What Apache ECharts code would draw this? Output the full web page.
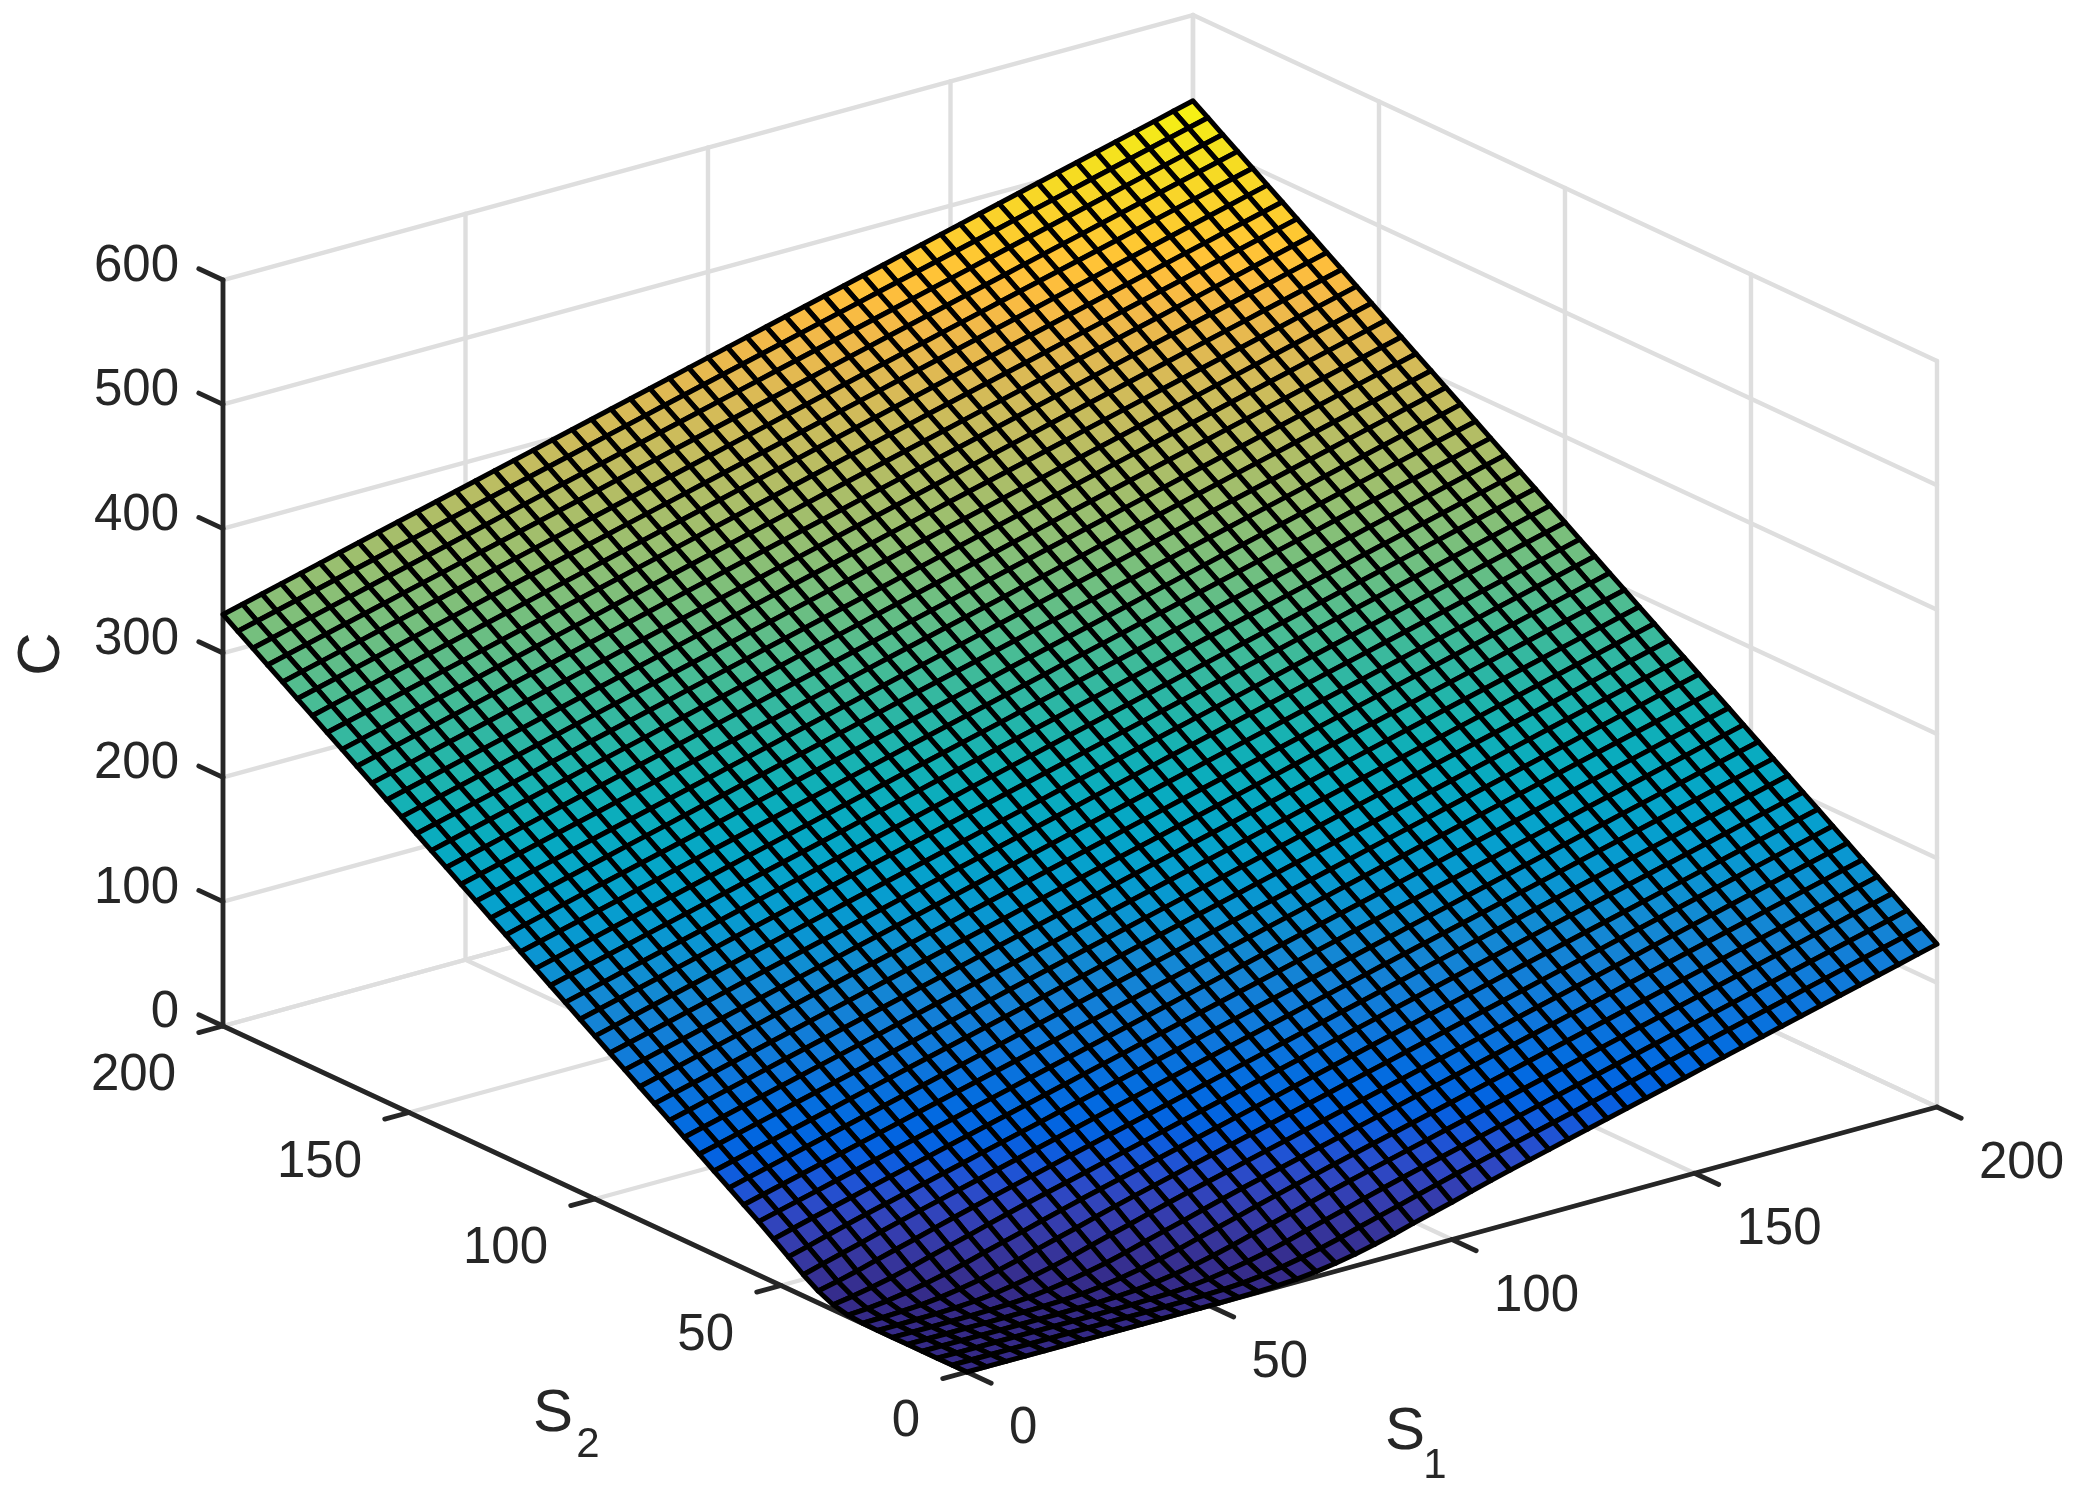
<!DOCTYPE html>
<html>
<head>
<meta charset="utf-8">
<title>C over S1 and S2</title>
<style>
html, body { margin: 0; padding: 0; background: #fff; }
#main { width: 2075px; height: 1493px; }
</style>
<script src="https://cdn.jsdelivr.net/npm/echarts@6/dist/echarts.min.js"></script>
</head>
<body>
<div id="main"></div>
<script>
// tick labels
const s1Ticks = [0, 50, 100, 150, 200];
const s2Ticks = [0, 50, 100, 150, 200];
const cTicks = [0, 100, 200, 300, 400, 500, 600];

// mesh positions, same for both S axes
const meshS = [0,4,8,12,16,20,24,28,32,36,40,44,48,52,56,60,64,68,72,76,80,84,88,92,96,100,104,108,112,116,120,124,128,132,136,140,144,148,152,156,160,164,168,172,176,180,184,188,192,196,200];

// C, one row per S2 mesh value, one column per S1 mesh value
const surfaceC = [
[0,0,0,0,0,0,0,0,0,0,0,0,0,.1,.3,.6,1.2,2.2,4,6.5,9.5,13,17,21.5,25.8,30,34.5,38.8,43,47,51,55,59,63,67,71,75,79,83,87,91,95,99,103,107,111,115,119,123,127,131],
[0,0,0,0,0,0,0,0,0,0,0,.1,.3,.6,1.2,2.2,4,6.5,9.5,13,17,21.5,25.8,30,34.5,38.8,43,47,51,55,59,63,67,71,75,79,83,87,91,95,99,103,107,111,115,119,123,127,131,135,139],
[0,0,0,0,0,0,0,0,0,.1,.3,.6,1.2,2.2,4,6.5,9.5,13,17,21.5,25.8,30,34.5,38.8,43,47,51,55,59,63,67,71,75,79,83,87,91,95,99,103,107,111,115,119,123,127,131,135,139,143,147],
[0,0,0,0,0,0,0,.1,.3,.6,1.2,2.2,4,6.5,9.5,13,17,21.5,25.8,30,34.5,38.8,43,47,51,55,59,63,67,71,75,79,83,87,91,95,99,103,107,111,115,119,123,127,131,135,139,143,147,151,155],
[0,0,0,0,0,.1,.3,.6,1.2,2.2,4,6.5,9.5,13,17,21.5,25.8,30,34.5,38.8,43,47,51,55,59,63,67,71,75,79,83,87,91,95,99,103,107,111,115,119,123,127,131,135,139,143,147,151,155,159,163],
[0,0,0,.1,.3,.6,1.2,2.2,4,6.5,9.5,13,17,21.5,25.8,30,34.5,38.8,43,47,51,55,59,63,67,71,75,79,83,87,91,95,99,103,107,111,115,119,123,127,131,135,139,143,147,151,155,159,163,167,171],
[0,.1,.3,.6,1.2,2.2,4,6.5,9.5,13,17,21.5,25.8,30,34.5,38.8,43,47,51,55,59,63,67,71,75,79,83,87,91,95,99,103,107,111,115,119,123,127,131,135,139,143,147,151,155,159,163,167,171,175,179],
[.3,.6,1.2,2.2,4,6.5,9.5,13,17,21.5,25.8,30,34.5,38.8,43,47,51,55,59,63,67,71,75,79,83,87,91,95,99,103,107,111,115,119,123,127,131,135,139,143,147,151,155,159,163,167,171,175,179,183,187],
[1.2,2.2,4,6.5,9.5,13,17,21.5,25.8,30,34.5,38.8,43,47,51,55,59,63,67,71,75,79,83,87,91,95,99,103,107,111,115,119,123,127,131,135,139,143,147,151,155,159,163,167,171,175,179,183,187,191,195],
[4,6.5,9.5,13,17,21.5,25.8,30,34.5,38.8,43,47,51,55,59,63,67,71,75,79,83,87,91,95,99,103,107,111,115,119,123,127,131,135,139,143,147,151,155,159,163,167,171,175,179,183,187,191,195,199,203],
[9.5,13,17,21.5,25.8,30,34.5,38.8,43,47,51,55,59,63,67,71,75,79,83,87,91,95,99,103,107,111,115,119,123,127,131,135,139,143,147,151,155,159,163,167,171,175,179,183,187,191,195,199,203,207,211],
[17,21.5,25.8,30,34.5,38.8,43,47,51,55,59,63,67,71,75,79,83,87,91,95,99,103,107,111,115,119,123,127,131,135,139,143,147,151,155,159,163,167,171,175,179,183,187,191,195,199,203,207,211,215,219],
[25.8,30,34.5,38.8,43,47,51,55,59,63,67,71,75,79,83,87,91,95,99,103,107,111,115,119,123,127,131,135,139,143,147,151,155,159,163,167,171,175,179,183,187,191,195,199,203,207,211,215,219,223,227],
[34.5,38.8,43,47,51,55,59,63,67,71,75,79,83,87,91,95,99,103,107,111,115,119,123,127,131,135,139,143,147,151,155,159,163,167,171,175,179,183,187,191,195,199,203,207,211,215,219,223,227,231,235],
[43,47,51,55,59,63,67,71,75,79,83,87,91,95,99,103,107,111,115,119,123,127,131,135,139,143,147,151,155,159,163,167,171,175,179,183,187,191,195,199,203,207,211,215,219,223,227,231,235,239,243],
[51,55,59,63,67,71,75,79,83,87,91,95,99,103,107,111,115,119,123,127,131,135,139,143,147,151,155,159,163,167,171,175,179,183,187,191,195,199,203,207,211,215,219,223,227,231,235,239,243,247,251],
[59,63,67,71,75,79,83,87,91,95,99,103,107,111,115,119,123,127,131,135,139,143,147,151,155,159,163,167,171,175,179,183,187,191,195,199,203,207,211,215,219,223,227,231,235,239,243,247,251,255,259],
[67,71,75,79,83,87,91,95,99,103,107,111,115,119,123,127,131,135,139,143,147,151,155,159,163,167,171,175,179,183,187,191,195,199,203,207,211,215,219,223,227,231,235,239,243,247,251,255,259,263,267],
[75,79,83,87,91,95,99,103,107,111,115,119,123,127,131,135,139,143,147,151,155,159,163,167,171,175,179,183,187,191,195,199,203,207,211,215,219,223,227,231,235,239,243,247,251,255,259,263,267,271,275],
[83,87,91,95,99,103,107,111,115,119,123,127,131,135,139,143,147,151,155,159,163,167,171,175,179,183,187,191,195,199,203,207,211,215,219,223,227,231,235,239,243,247,251,255,259,263,267,271,275,279,283],
[91,95,99,103,107,111,115,119,123,127,131,135,139,143,147,151,155,159,163,167,171,175,179,183,187,191,195,199,203,207,211,215,219,223,227,231,235,239,243,247,251,255,259,263,267,271,275,279,283,287,291],
[99,103,107,111,115,119,123,127,131,135,139,143,147,151,155,159,163,167,171,175,179,183,187,191,195,199,203,207,211,215,219,223,227,231,235,239,243,247,251,255,259,263,267,271,275,279,283,287,291,295,299],
[107,111,115,119,123,127,131,135,139,143,147,151,155,159,163,167,171,175,179,183,187,191,195,199,203,207,211,215,219,223,227,231,235,239,243,247,251,255,259,263,267,271,275,279,283,287,291,295,299,303,307],
[115,119,123,127,131,135,139,143,147,151,155,159,163,167,171,175,179,183,187,191,195,199,203,207,211,215,219,223,227,231,235,239,243,247,251,255,259,263,267,271,275,279,283,287,291,295,299,303,307,311,315],
[123,127,131,135,139,143,147,151,155,159,163,167,171,175,179,183,187,191,195,199,203,207,211,215,219,223,227,231,235,239,243,247,251,255,259,263,267,271,275,279,283,287,291,295,299,303,307,311,315,319,323],
[131,135,139,143,147,151,155,159,163,167,171,175,179,183,187,191,195,199,203,207,211,215,219,223,227,231,235,239,243,247,251,255,259,263,267,271,275,279,283,287,291,295,299,303,307,311,315,319,323,327,331],
[139,143,147,151,155,159,163,167,171,175,179,183,187,191,195,199,203,207,211,215,219,223,227,231,235,239,243,247,251,255,259,263,267,271,275,279,283,287,291,295,299,303,307,311,315,319,323,327,331,335,339],
[147,151,155,159,163,167,171,175,179,183,187,191,195,199,203,207,211,215,219,223,227,231,235,239,243,247,251,255,259,263,267,271,275,279,283,287,291,295,299,303,307,311,315,319,323,327,331,335,339,343,347],
[155,159,163,167,171,175,179,183,187,191,195,199,203,207,211,215,219,223,227,231,235,239,243,247,251,255,259,263,267,271,275,279,283,287,291,295,299,303,307,311,315,319,323,327,331,335,339,343,347,351,355],
[163,167,171,175,179,183,187,191,195,199,203,207,211,215,219,223,227,231,235,239,243,247,251,255,259,263,267,271,275,279,283,287,291,295,299,303,307,311,315,319,323,327,331,335,339,343,347,351,355,359,363],
[171,175,179,183,187,191,195,199,203,207,211,215,219,223,227,231,235,239,243,247,251,255,259,263,267,271,275,279,283,287,291,295,299,303,307,311,315,319,323,327,331,335,339,343,347,351,355,359,363,367,371],
[179,183,187,191,195,199,203,207,211,215,219,223,227,231,235,239,243,247,251,255,259,263,267,271,275,279,283,287,291,295,299,303,307,311,315,319,323,327,331,335,339,343,347,351,355,359,363,367,371,375,379],
[187,191,195,199,203,207,211,215,219,223,227,231,235,239,243,247,251,255,259,263,267,271,275,279,283,287,291,295,299,303,307,311,315,319,323,327,331,335,339,343,347,351,355,359,363,367,371,375,379,383,387],
[195,199,203,207,211,215,219,223,227,231,235,239,243,247,251,255,259,263,267,271,275,279,283,287,291,295,299,303,307,311,315,319,323,327,331,335,339,343,347,351,355,359,363,367,371,375,379,383,387,391,395],
[203,207,211,215,219,223,227,231,235,239,243,247,251,255,259,263,267,271,275,279,283,287,291,295,299,303,307,311,315,319,323,327,331,335,339,343,347,351,355,359,363,367,371,375,379,383,387,391,395,399,403],
[211,215,219,223,227,231,235,239,243,247,251,255,259,263,267,271,275,279,283,287,291,295,299,303,307,311,315,319,323,327,331,335,339,343,347,351,355,359,363,367,371,375,379,383,387,391,395,399,403,407,411],
[219,223,227,231,235,239,243,247,251,255,259,263,267,271,275,279,283,287,291,295,299,303,307,311,315,319,323,327,331,335,339,343,347,351,355,359,363,367,371,375,379,383,387,391,395,399,403,407,411,415,419],
[227,231,235,239,243,247,251,255,259,263,267,271,275,279,283,287,291,295,299,303,307,311,315,319,323,327,331,335,339,343,347,351,355,359,363,367,371,375,379,383,387,391,395,399,403,407,411,415,419,423,427],
[235,239,243,247,251,255,259,263,267,271,275,279,283,287,291,295,299,303,307,311,315,319,323,327,331,335,339,343,347,351,355,359,363,367,371,375,379,383,387,391,395,399,403,407,411,415,419,423,427,431,435],
[243,247,251,255,259,263,267,271,275,279,283,287,291,295,299,303,307,311,315,319,323,327,331,335,339,343,347,351,355,359,363,367,371,375,379,383,387,391,395,399,403,407,411,415,419,423,427,431,435,439,443],
[251,255,259,263,267,271,275,279,283,287,291,295,299,303,307,311,315,319,323,327,331,335,339,343,347,351,355,359,363,367,371,375,379,383,387,391,395,399,403,407,411,415,419,423,427,431,435,439,443,447,451],
[259,263,267,271,275,279,283,287,291,295,299,303,307,311,315,319,323,327,331,335,339,343,347,351,355,359,363,367,371,375,379,383,387,391,395,399,403,407,411,415,419,423,427,431,435,439,443,447,451,455,459],
[267,271,275,279,283,287,291,295,299,303,307,311,315,319,323,327,331,335,339,343,347,351,355,359,363,367,371,375,379,383,387,391,395,399,403,407,411,415,419,423,427,431,435,439,443,447,451,455,459,463,467],
[275,279,283,287,291,295,299,303,307,311,315,319,323,327,331,335,339,343,347,351,355,359,363,367,371,375,379,383,387,391,395,399,403,407,411,415,419,423,427,431,435,439,443,447,451,455,459,463,467,471,475],
[283,287,291,295,299,303,307,311,315,319,323,327,331,335,339,343,347,351,355,359,363,367,371,375,379,383,387,391,395,399,403,407,411,415,419,423,427,431,435,439,443,447,451,455,459,463,467,471,475,479,483],
[291,295,299,303,307,311,315,319,323,327,331,335,339,343,347,351,355,359,363,367,371,375,379,383,387,391,395,399,403,407,411,415,419,423,427,431,435,439,443,447,451,455,459,463,467,471,475,479,483,487,491],
[299,303,307,311,315,319,323,327,331,335,339,343,347,351,355,359,363,367,371,375,379,383,387,391,395,399,403,407,411,415,419,423,427,431,435,439,443,447,451,455,459,463,467,471,475,479,483,487,491,495,499],
[307,311,315,319,323,327,331,335,339,343,347,351,355,359,363,367,371,375,379,383,387,391,395,399,403,407,411,415,419,423,427,431,435,439,443,447,451,455,459,463,467,471,475,479,483,487,491,495,499,503,507],
[315,319,323,327,331,335,339,343,347,351,355,359,363,367,371,375,379,383,387,391,395,399,403,407,411,415,419,423,427,431,435,439,443,447,451,455,459,463,467,471,475,479,483,487,491,495,499,503,507,511,515],
[323,327,331,335,339,343,347,351,355,359,363,367,371,375,379,383,387,391,395,399,403,407,411,415,419,423,427,431,435,439,443,447,451,455,459,463,467,471,475,479,483,487,491,495,499,503,507,511,515,519,523],
[331,335,339,343,347,351,355,359,363,367,371,375,379,383,387,391,395,399,403,407,411,415,419,423,427,431,435,439,443,447,451,455,459,463,467,471,475,479,483,487,491,495,499,503,507,511,515,519,523,527,531]
];

// parula
const parula = [
[0.2081,0.1663,0.5292],[0.2116,0.1898,0.5777],[0.2123,0.2138,0.6270],[0.2081,0.2386,0.6771],
[0.1959,0.2645,0.7279],[0.1707,0.2919,0.7792],[0.1253,0.3242,0.8303],[0.0591,0.3598,0.8683],
[0.0117,0.3875,0.8820],[0.0060,0.4086,0.8828],[0.0165,0.4266,0.8786],[0.0329,0.4430,0.8720],
[0.0498,0.4586,0.8641],[0.0629,0.4737,0.8554],[0.0723,0.4887,0.8467],[0.0779,0.5040,0.8384],
[0.0793,0.5200,0.8312],[0.0749,0.5375,0.8263],[0.0641,0.5570,0.8240],[0.0488,0.5772,0.8228],
[0.0343,0.5966,0.8199],[0.0265,0.6137,0.8135],[0.0239,0.6287,0.8038],[0.0231,0.6418,0.7913],
[0.0228,0.6535,0.7768],[0.0267,0.6642,0.7607],[0.0384,0.6743,0.7436],[0.0590,0.6838,0.7254],
[0.0843,0.6928,0.7062],[0.1133,0.7015,0.6859],[0.1453,0.7098,0.6646],[0.1801,0.7177,0.6424],
[0.2178,0.7250,0.6193],[0.2586,0.7317,0.5954],[0.3022,0.7376,0.5712],[0.3482,0.7424,0.5473],
[0.3953,0.7459,0.5244],[0.4420,0.7481,0.5033],[0.4871,0.7491,0.4840],[0.5300,0.7491,0.4661],
[0.5709,0.7485,0.4494],[0.6099,0.7473,0.4337],[0.6473,0.7456,0.4188],[0.6834,0.7435,0.4044],
[0.7184,0.7411,0.3905],[0.7525,0.7384,0.3768],[0.7858,0.7356,0.3633],[0.8185,0.7327,0.3498],
[0.8507,0.7299,0.3360],[0.8824,0.7274,0.3217],[0.9139,0.7258,0.3063],[0.9450,0.7261,0.2886],
[0.9739,0.7314,0.2666],[0.9938,0.7455,0.2403],[0.9990,0.7653,0.2164],[0.9955,0.7861,0.1967],
[0.9880,0.8066,0.1794],[0.9789,0.8271,0.1633],[0.9697,0.8481,0.1475],[0.9626,0.8705,0.1309],
[0.9589,0.8949,0.1132],[0.9598,0.9218,0.0948],[0.9661,0.9514,0.0755],[0.9763,0.9831,0.0538]
].map(c => 'rgb(' + c.map(v => Math.round(v * 255)).join(',') + ')');

// orthographic view of the axes box, page pixels per data unit
const originX = 967, originY = 1372;
const s1Step = [4.85, -1.325];
const s2Step = [-3.72, -1.73];
const cStep = -1.2433;

const project = (s1, s2, c) => [
    originX + s1 * s1Step[0] + s2 * s2Step[0],
    originY + s1 * s1Step[1] + s2 * s2Step[1] + c * cStep
];

const S_MAX = 200, C_MAX = 600;
const textColor = '#262626';
const fontName = '"Liberation Sans", Arial, sans-serif';

// back walls and floor
let gridLines = [];
s1Ticks.forEach(s1 => {
    gridLines.push([[s1, 0, 0], [s1, S_MAX, 0]]);
    gridLines.push([[s1, S_MAX, 0], [s1, S_MAX, C_MAX]]);
});
s2Ticks.forEach(s2 => {
    gridLines.push([[0, s2, 0], [S_MAX, s2, 0]]);
    gridLines.push([[S_MAX, s2, 0], [S_MAX, s2, C_MAX]]);
});
cTicks.forEach(c => {
    gridLines.push([[0, S_MAX, c], [S_MAX, S_MAX, c]]);
    gridLines.push([[S_MAX, 0, c], [S_MAX, S_MAX, c]]);
});

// axis lines and tick marks
let axisLines = [
    [[0, 0, 0], [S_MAX, 0, 0]],
    [[0, 0, 0], [0, S_MAX, 0]],
    [[0, S_MAX, 0], [0, S_MAX, C_MAX]]
];
s1Ticks.forEach(s1 => axisLines.push([[s1, 0, 0], [s1, -6.5, 0]]));
s2Ticks.forEach(s2 => axisLines.push([[0, s2, 0], [-5, s2, 0]]));
cTicks.forEach(c => axisLines.push([[0, S_MAX, c], [0, S_MAX + 6.5, c]]));

// texts: anchor in data space, then a pixel offset
let texts = [];
s1Ticks.forEach(s1 => texts.push({ at: [s1, 0, 0], dx: 42, dy: 57, text: String(s1), align: 'left', size: 51 }));
s2Ticks.forEach(s2 => texts.push({ at: [0, s2, 0], dx: -47, dy: 50, text: String(s2), align: 'right', size: 51 }));
cTicks.forEach(c => texts.push({ at: [0, S_MAX, c], dx: -44, dy: -13, text: String(c), align: 'right', size: 51 }));
texts.push({ at: [100, 0, 0], dx: -47, dy: 193, text: 'S', align: 'center', size: 60 });
texts.push({ at: [100, 0, 0], dx: -17, dy: 227, text: '1', align: 'center', size: 42 });
texts.push({ at: [0, 100, 0], dx: -42, dy: 215, text: 'S', align: 'center', size: 60 });
texts.push({ at: [0, 100, 0], dx: -7, dy: 246, text: '2', align: 'center', size: 42 });
texts.push({ at: [0, S_MAX, 300], dx: -181, dy: 1, text: 'C', align: 'center', size: 60, rotate: Math.PI / 2 });

// surface cells, far corner first so nearer cells paint over
let cells = [];
for (let j = meshS.length - 2; j >= 0; j--) {
    for (let i = meshS.length - 2; i >= 0; i--) {
        cells.push([surfaceC[j][i], meshS[i], meshS[i + 1], meshS[j], meshS[j + 1],
            surfaceC[j][i + 1], surfaceC[j + 1][i + 1], surfaceC[j + 1][i]]);
    }
}

const lineSeries = (lines, color, width, z) => ({
    type: 'custom',
    coordinateSystem: 'cartesian2d',
    silent: true,
    clip: false,
    z: z,
    data: lines.map((l, i) => [i]),
    encode: { x: 0, y: 0 },
    renderItem: (params, api) => {
        let seg = lines[params.dataIndex];
        let a = api.coord(project(seg[0][0], seg[0][1], seg[0][2]));
        let b = api.coord(project(seg[1][0], seg[1][1], seg[1][2]));
        return {
            type: 'line',
            shape: { x1: a[0], y1: a[1], x2: b[0], y2: b[1] },
            style: { stroke: color, lineWidth: width, lineCap: 'round' }
        };
    }
});

let myChart = echarts.init(document.getElementById('main'), null, { renderer: 'canvas' });
let option = {
    animation: false,
    backgroundColor: '#fff',
    grid: { left: 0, right: 0, top: 0, bottom: 0 },
    xAxis: { type: 'value', min: 0, max: 2075, show: false },
    yAxis: { type: 'value', min: 0, max: 1493, inverse: true, show: false },
    visualMap: {
        show: false,
        seriesIndex: 2,
        dimension: 0,
        min: 0,
        max: 531,
        inRange: { color: parula }
    },
    series: [
        lineSeries(gridLines, '#dedede', 4.4, 1),
        lineSeries(axisLines, textColor, 4.8, 2),
        {
            type: 'custom',
            coordinateSystem: 'cartesian2d',
            silent: true,
            clip: false,
            progressive: 0,
            z: 3,
            data: cells,
            encode: { x: 1, y: 3 },
            renderItem: (params, api) => {
                let s1a = api.value(1), s1b = api.value(2), s2a = api.value(3), s2b = api.value(4);
                let corners = [
                    project(s1a, s2a, api.value(0)),
                    project(s1b, s2a, api.value(5)),
                    project(s1b, s2b, api.value(6)),
                    project(s1a, s2b, api.value(7))
                ];
                return {
                    type: 'polygon',
                    shape: { points: corners.map(p => api.coord(p)) },
                    style: { fill: api.visual('color'), stroke: '#000', lineWidth: 5, lineJoin: 'round' }
                };
            }
        },
        {
            type: 'custom',
            coordinateSystem: 'cartesian2d',
            silent: true,
            clip: false,
            z: 4,
            data: texts.map((t, i) => [i]),
            encode: { x: 0, y: 0 },
            renderItem: (params, api) => {
                let t = texts[params.dataIndex];
                let p = api.coord(project(t.at[0], t.at[1], t.at[2]));
                return {
                    type: 'text',
                    x: p[0] + t.dx,
                    y: p[1] + t.dy,
                    rotation: t.rotate || 0,
                    style: {
                        text: t.text,
                        fontFamily: fontName,
                        fontSize: t.size,
                        fill: textColor,
                        align: t.align,
                        verticalAlign: 'middle'
                    }
                };
            }
        }
    ]
};
myChart.setOption(option);
</script>
</body>
</html>
